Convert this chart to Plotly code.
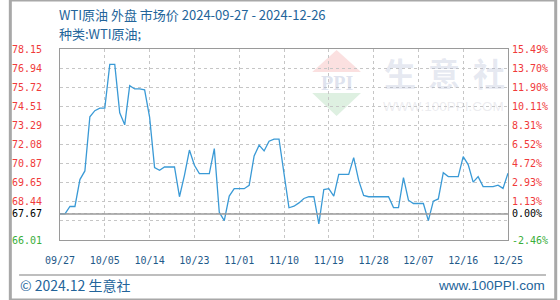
import plotly.graph_objects as go
import pandas as pd

# ---------------- data ----------------
START_DATE = "2024-09-27"
END_DATE = "2024-12-26"
BASE = 67.67  # reference price (0.00%)

prices = [
    67.67, 67.67, 68.14, 68.14, 69.85, 70.40, 73.84, 74.23, 74.39, 74.39,
    77.17, 77.17, 74.10, 73.33, 75.82, 75.61, 75.61, 75.55, 73.82, 70.61,
    70.44, 70.65, 70.65, 70.65, 68.76, 70.12, 71.73, 70.76, 70.23, 70.23,
    70.23, 71.82, 67.77, 67.24, 68.80, 69.27, 69.27, 69.27, 69.48, 71.35,
    72.04, 71.67, 72.29, 72.42, 72.42, 70.25, 68.06, 68.16, 68.37, 68.65,
    68.76, 68.76, 67.03, 69.22, 69.27, 68.80, 70.18, 70.18, 70.18, 71.25,
    69.80, 68.84, 68.76, 68.76, 68.76, 68.76, 68.76, 68.07, 68.07, 69.97,
    68.54, 68.33, 68.33, 68.33, 67.24, 68.48, 68.62, 70.29, 70.04, 70.04,
    70.04, 71.31, 70.80, 69.69, 70.04, 69.40, 69.40, 69.40, 69.50, 69.29,
    70.25,
]
dates = pd.date_range(START_DATE, periods=len(prices), freq="D")

x_tick_labels = ["09/27", "10/05", "10/14", "10/23", "11/01", "11/10",
                 "11/19", "11/28", "12/07", "12/16", "12/25"]
x_tick_step_days = 9

y_left_labels = ["78.15", "76.94", "75.72", "74.51", "73.29", "72.08",
                 "70.87", "69.65", "68.44", "", "66.01"]
y_grid_values = [78.15, 76.94, 75.72, 74.51, 73.29, 72.08,
                 70.87, 69.65, 68.44, 67.22, 66.01]
y_right_labels = ["15.49%", "13.70%", "11.90%", "10.11%", "8.31%", "6.52%",
                  "4.72%", "2.93%", "1.13%", "", "-2.46%"]
base_left_label = "67.67"
base_right_label = "0.00%"

title_text = f"WTI原油 外盘 市场价 {START_DATE} - {END_DATE}"
subtitle_text = "种类:WTI原油;"
footer_left = "© 2024.12 生意社"
footer_right = "www.100PPI.com"

# ---------------- styling ----------------
W, H = 560, 300
L, R, T, B = 51, 511, 49, 240
RED, GREEN, BLACK = "#f03a3a", "#3aae3a", "#000000"
BLUE_TXT = "#23649a"
LINE_COLOR = "#3a9ad6"
GRID = "#c6c6c6"
FRAME = "#9a9a9a"


def px(x):
    return (x - L) / (R - L)


def py(y):
    return (B - y) / (B - T)


def colored(v, text):
    if text == "":
        return ""
    c = RED if v > BASE + 1e-9 else (GREEN if v < BASE - 1e-9 else BLACK)
    return f'<span style="color:{c}">{text}</span>'


tickvals = y_grid_values + [BASE]
left_text = [colored(v, t) for v, t in zip(y_grid_values, y_left_labels)] + [colored(BASE, base_left_label)]
right_text = [colored(v, t) for v, t in zip(y_grid_values, y_right_labels)] + [colored(BASE, base_right_label)]

x_tickvals = [dates[0] + pd.Timedelta(days=x_tick_step_days * i) for i in range(len(x_tick_labels))]

yrange = [min(y_grid_values), max(y_grid_values)]

fig = go.Figure()
fig.add_trace(go.Scatter(
    x=dates, y=prices, mode="lines",
    line=dict(color=LINE_COLOR, width=1.3),
    hoverinfo="skip", showlegend=False,
))
fig.add_trace(go.Scatter(
    x=dates, y=prices, mode="lines", yaxis="y2",
    line=dict(color="rgba(0,0,0,0)", width=0),
    hoverinfo="skip", showlegend=False,
))

tick_font = dict(family="DejaVu Sans Mono", size=10)

fig.update_layout(
    width=W, height=H,
    margin=dict(l=L, r=W - R, t=T, b=H - B, pad=0),
    paper_bgcolor="white", plot_bgcolor="white",
    xaxis=dict(
        type="date",
        range=[dates[0], dates[-1]],
        tickvals=x_tickvals, ticktext=x_tick_labels,
        tickfont=dict(family="DejaVu Sans Mono", size=10, color="#1f5a8a"),
        showgrid=True, gridcolor=GRID, griddash="3px,3px", gridwidth=1,
        showline=True, linecolor=FRAME, linewidth=1, mirror=True,
        ticks="", ticklabelstandoff=11, zeroline=False,
    ),
    yaxis=dict(
        range=yrange, tickvals=tickvals, ticktext=left_text,
        tickfont=tick_font,
        showgrid=True, gridcolor=GRID, griddash="3px,3px", gridwidth=1,
        showline=True, linecolor=FRAME, linewidth=1, mirror=True,
        ticks="", ticklabelstandoff=15, zeroline=False,
    ),
    yaxis2=dict(
        range=yrange, tickvals=tickvals, ticktext=right_text,
        tickfont=tick_font, overlaying="y", side="right",
        showgrid=False, showline=False, ticks="", ticklabelstandoff=3,
        zeroline=False,
    ),
)

shapes = []
# baseline at the reference price
shapes.append(dict(type="line", xref="paper", yref="y", x0=0, x1=1, y0=BASE, y1=BASE,
                   line=dict(color=FRAME, width=1.5), layer="above"))
# watermark diamond
shapes.append(dict(type="path", xref="paper", yref="paper", layer="below",
                   path=f"M {px(335)},{py(50)} L {px(310)},{py(72)} L {px(360)},{py(72)} Z",
                   fillcolor="#fbe0e0", line=dict(width=0)))
shapes.append(dict(type="path", xref="paper", yref="paper", layer="below",
                   path=f"M {px(310)},{py(93)} L {px(360)},{py(93)} L {px(335)},{py(116)} Z",
                   fillcolor="#def0e1", line=dict(width=0)))
# footer separator
shapes.append(dict(type="line", xref="paper", yref="paper",
                   x0=px(9), x1=px(550), y0=py(275), y1=py(275),
                   line=dict(color="#a8a8a8", width=1.5)))
# outer border
shapes.append(dict(type="rect", xref="paper", yref="paper",
                   x0=px(0), x1=px(W), y0=py(0), y1=py(H),
                   line=dict(color="#a8a8a8", width=3)))
fig.update_layout(shapes=shapes)

ann = []
cjk = "Noto Sans CJK SC"
ann.append(dict(text=title_text, x=px(49), y=py(15), xref="paper", yref="paper",
                xanchor="left", yanchor="middle", showarrow=False, borderpad=0,
                font=dict(family=cjk, size=13, color=BLUE_TXT)))
ann.append(dict(text=subtitle_text, x=px(49), y=py(33.5), xref="paper", yref="paper",
                xanchor="left", yanchor="middle", showarrow=False, borderpad=0,
                font=dict(family=cjk, size=13, color=BLUE_TXT)))
ann.append(dict(text=footer_left, x=px(9), y=py(285), xref="paper", yref="paper",
                xanchor="left", yanchor="middle", showarrow=False, borderpad=0,
                font=dict(family=cjk, size=14, color=BLUE_TXT)))
ann.append(dict(text=footer_right, x=px(550), y=py(285), xref="paper", yref="paper",
                xanchor="right", yanchor="middle", showarrow=False, borderpad=0,
                font=dict(family="Liberation Sans", size=13.5, color=BLUE_TXT)))
# watermark texts
ann.append(dict(text="<b>PPI</b>", x=px(335), y=py(83), xref="paper", yref="paper",
                xanchor="center", yanchor="middle", showarrow=False, borderpad=0,
                font=dict(family="Liberation Serif", size=20, color="rgba(170,182,212,0.4)")))
for ch, cx in zip("生意社", [400, 445, 491]):
    ann.append(dict(text=f"<b>{ch}</b>", x=px(cx), y=py(72), xref="paper", yref="paper",
                    xanchor="center", yanchor="middle", showarrow=False, borderpad=0,
                    font=dict(family=cjk, size=32, color="rgba(175,185,212,0.33)")))
ann.append(dict(text="WWW.100PPI.COM", x=px(445), y=py(106), xref="paper", yref="paper",
                xanchor="center", yanchor="middle", showarrow=False, borderpad=0,
                font=dict(family="Liberation Sans", size=13.5, color="rgba(200,200,210,0.35)")))
fig.update_layout(annotations=ann)

fig.write_html("out.html", config={"displayModeBar": False})
